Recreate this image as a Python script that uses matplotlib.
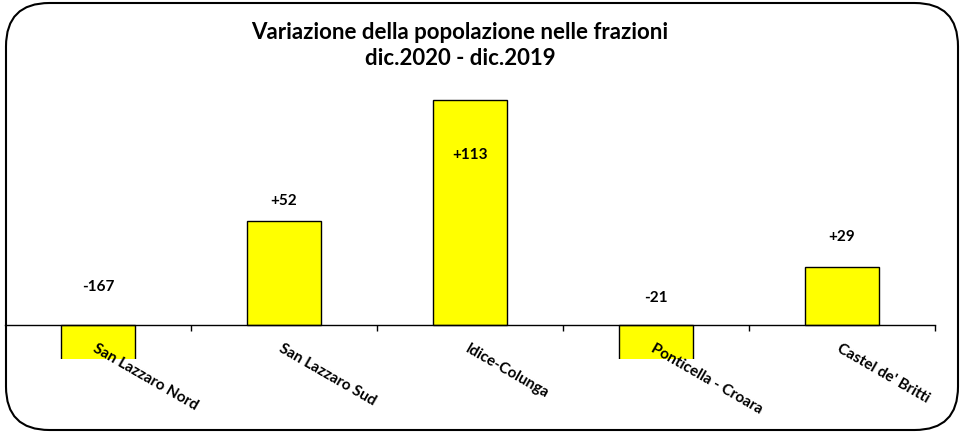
import matplotlib.pyplot as plt
from matplotlib.patches import FancyBboxPatch

# --- dati ---
frazioni = ['San Lazzaro Nord', 'San Lazzaro Sud', 'Idice-Colunga',
            'Ponticella - Croara', "Castel de' Britti"]
variazione = [-167, 52, 113, -21, 29]
etichette = ['-167', '+52', '+113', '-21', '+29']
# altezza (in unità dati) dove stanno le etichette
pos_etichette = [19, 62, 85, 13.5, 44]

plt.rcParams['font.family'] = ['Lato', 'DejaVu Sans']

fig = plt.figure(figsize=(9.64, 4.33), dpi=100)

# cornice arrotondata
cornice = FancyBboxPatch((6 / 964, 3 / 433), 952 / 964, 427 / 433,
                         boxstyle='round,pad=0,rounding_size=0.045',
                         transform=fig.transFigure, fill=False,
                         edgecolor='black', linewidth=1.5, mutation_aspect=964 / 433)
fig.patches.append(cornice)

ax = fig.add_axes([5 / 964, 74.3 / 433, 930 / 964, 288 / 433])
x = list(range(len(frazioni)))
ax.bar(x, variazione, width=0.4, color='#FFFF00', edgecolor='black', linewidth=1)

for xi, lab, yl in zip(x, etichette, pos_etichette):
    ax.text(xi, yl, lab, ha='center', va='center', fontsize=11, fontweight='bold')

ax.set_xlim(-0.5, len(frazioni) - 0.5)
ax.set_ylim(-16.85, 127.5)

for s in ['top', 'right', 'left']:
    ax.spines[s].set_visible(False)
ax.spines['bottom'].set_position(('data', 0))
ax.spines['bottom'].set_linewidth(1)
ax.set_yticks([])

ax.set_xticks(x)
ax.set_xticklabels(frazioni, rotation=-30, ha='left', va='top',
                   rotation_mode='anchor', fontsize=11, fontweight='bold')
ax.tick_params(axis='x', which='major', length=0, pad=12)
ax.set_xticks([i + 0.5 for i in x], minor=True)
ax.tick_params(axis='x', which='minor', length=4, direction='out', width=1)

fig.text(460 / 964, 0.925, 'Variazione della popolazione nelle frazioni',
         ha='center', va='center', fontsize=16, fontweight='bold')
fig.text(460 / 964, 0.865, 'dic.2020 - dic.2019',
         ha='center', va='center', fontsize=16, fontweight='bold')

fig.savefig('out.png', dpi=100)
